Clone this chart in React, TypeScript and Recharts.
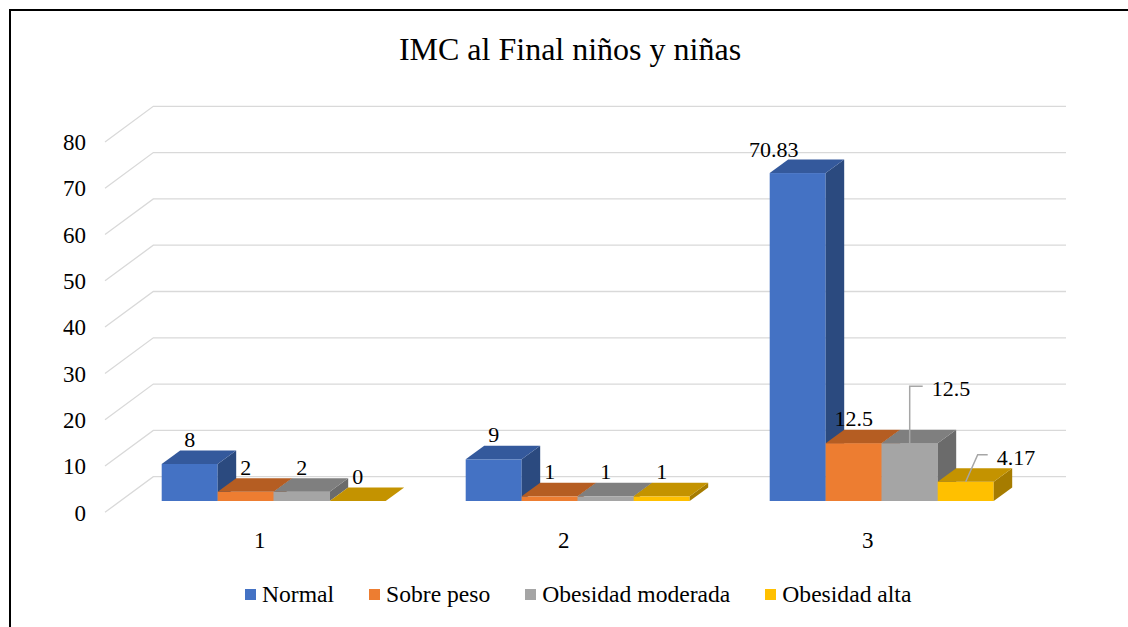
import React from 'react';
import { BarChart, Bar, XAxis, YAxis, CartesianGrid, Legend, LabelList } from 'recharts';

const categories = ['1', '2', '3'];
const normal = [8, 9, 70.83];
const sobrePeso = [2, 1, 12.5];
const obesidadModerada = [2, 1, 12.5];
const obesidadAlta = [0, 1, 4.17];
const seriesNames = ['Normal', 'Sobre peso', 'Obesidad moderada', 'Obesidad alta'];
const seriesKeys = ['normal', 'sobrePeso', 'obesidadModerada', 'obesidadAlta'];
const yTicks = [0, 10, 20, 30, 40, 50, 60, 70, 80];

const data = categories.map((c, i) => ({
  cat: c,
  normal: normal[i],
  sobrePeso: sobrePeso[i],
  obesidadModerada: obesidadModerada[i],
  obesidadAlta: obesidadAlta[i],
}));

const FONT = '"Liberation Serif", "Times New Roman", serif';
const DX = 18.5;
const DY = 13.5;

const palette: Record<string, { front: string; top: string; side: string }> = {
  normal: { front: '#4472C4', top: '#34599C', side: '#2B4A7F' },
  sobrePeso: { front: '#ED7D31', top: '#B55D22', side: '#9E4F1B' },
  obesidadModerada: { front: '#A5A5A5', top: '#7F7F7F', side: '#6B6B6B' },
  obesidadAlta: { front: '#FFC000', top: '#C49300', side: '#A67C00' },
};

const makeShape = (key: string) => (props: any) => {
  const { x, y, width, height } = props;
  const c = palette[key];
  const h = Math.max(0, height || 0);
  const top = `${x},${y} ${x + DX},${y - DY} ${x + width + DX},${y - DY} ${x + width},${y}`;
  const side = `${x + width},${y} ${x + width + DX},${y - DY} ${x + width + DX},${y + h - DY} ${x + width},${y + h}`;
  return (
    <g>
      {h > 0 && <rect x={x} y={y} width={width} height={h} fill={c.front} />}
      {h > 0 && <polygon points={side} fill={c.side} />}
      <polygon points={top} fill={c.top} />
    </g>
  );
};

const makeLabel = (key: string) => (props: any) => {
  const { x, y, width, value, index } = props;
  const cx = x + width / 2;
  const common = { fontFamily: FONT, fontSize: 22, fill: '#000' } as any;
  if (key === 'normal' && index === 2) {
    return <text x={cx - 24} y={y - DY - 3} textAnchor="middle" {...common}>{value}</text>;
  }
  if (key === 'obesidadModerada' && index === 2) {
    return (
      <g>
        <polyline points={`${cx},${y} ${cx},${y - 57} ${cx + 13},${y - 57}`} fill="none" stroke="#A6A6A6" strokeWidth={1.5} />
        <text x={cx + 22} y={y - 47} textAnchor="start" {...common}>{value}</text>
      </g>
    );
  }
  if (key === 'obesidadAlta' && index === 2) {
    return (
      <g>
        <polyline points={`${cx},${y} ${cx + 12},${y - 27} ${cx + 22},${y - 27}`} fill="none" stroke="#A6A6A6" strokeWidth={1.5} />
        <text x={cx + 31} y={y - 17} textAnchor="start" {...common}>{value}</text>
      </g>
    );
  }
  return <text x={cx} y={y - DY - 3.5} textAnchor="middle" {...common}>{value}</text>;
};

const YTick = (props: any) => {
  const { y, payload } = props;
  return (
    <text x={86} y={y + 12} textAnchor="end" dominantBaseline="central" fontFamily={FONT} fontSize={23} fill="#000">
      {payload.value}
    </text>
  );
};

const XTick = (props: any) => {
  const { x, y, payload } = props;
  return (
    <text x={x - 13} y={y + 39} textAnchor="middle" dominantBaseline="central" fontFamily={FONT} fontSize={23} fill="#000">
      {payload.value}
    </text>
  );
};

const gridLine = (p: any) => {
  const { x1, x2, y1 } = p;
  return (
    <polyline
      key={p.key}
      points={`${x1 - 15.7},${y1 + 11.3} ${x1 + 32.6},${y1 - 24.3} ${x2 + 33.3},${y1 - 24.3}`}
      stroke="#D9D9D9"
      strokeWidth={1.3}
      fill="none"
    />
  );
};

const LegendContent = (props: any) => {
  const items = [...(props.payload || [])].sort(
    (a: any, b: any) => seriesNames.indexOf(a.value) - seriesNames.indexOf(b.value)
  );
  return (
    <div style={{ display: 'flex', alignItems: 'center', paddingLeft: 245, fontFamily: FONT, fontSize: 23.6, lineHeight: '23px', color: '#000' }}>
      {items.map((e: any, i: number) => (
        <div key={i} style={{ display: 'flex', alignItems: 'center', marginRight: 35 }}>
          <span style={{ display: 'inline-block', width: 11, height: 11, background: e.color, marginRight: 6 }} />
          <span>{e.value}</span>
        </div>
      ))}
    </div>
  );
};

export default function App() {
  return (
    <div style={{ position: 'absolute', left: 0, top: 0, width: 1128, height: 627, overflow: 'hidden', background: '#fff' }}>
      <div style={{ position: 'absolute', left: 9, top: 9, width: 1200, height: 700, border: '2px solid #000', boxSizing: 'border-box' }} />
      <div style={{ position: 'absolute', left: 0, top: 0 }}>
        <BarChart
          width={1128}
          height={627}
          data={data}
          margin={{ top: 130.6, right: 95.3, left: 0, bottom: 96 }}
          barCategoryGap={41}
          barGap={0}
        >
          <text x={570} y={60} textAnchor="middle" fontFamily={FONT} fontSize={32} fill="#000">IMC al Final niños y niñas</text>
          <CartesianGrid vertical={false} horizontal={gridLine} />
          <XAxis dataKey="cat" axisLine={false} tickLine={false} tickSize={0} tickMargin={0} height={30} tick={<XTick />} interval={0} />
          <YAxis domain={[0, 80]} ticks={yTicks} axisLine={false} tickLine={false} width={120.7} tick={<YTick />} interval={0} />
          <Legend
            verticalAlign="bottom"
            content={<LegendContent />}
            wrapperStyle={{ position: 'absolute', left: 0, top: 583, width: 1128, height: 0, overflow: 'visible' }}
          />
          {seriesKeys.map((k, i) => (
            <Bar key={k} dataKey={k} name={seriesNames[i]} fill={palette[k].front} isAnimationActive={false} shape={makeShape(k)}>
              <LabelList dataKey={k} content={makeLabel(k)} />
            </Bar>
          ))}
        </BarChart>
      </div>
    </div>
  );
}
